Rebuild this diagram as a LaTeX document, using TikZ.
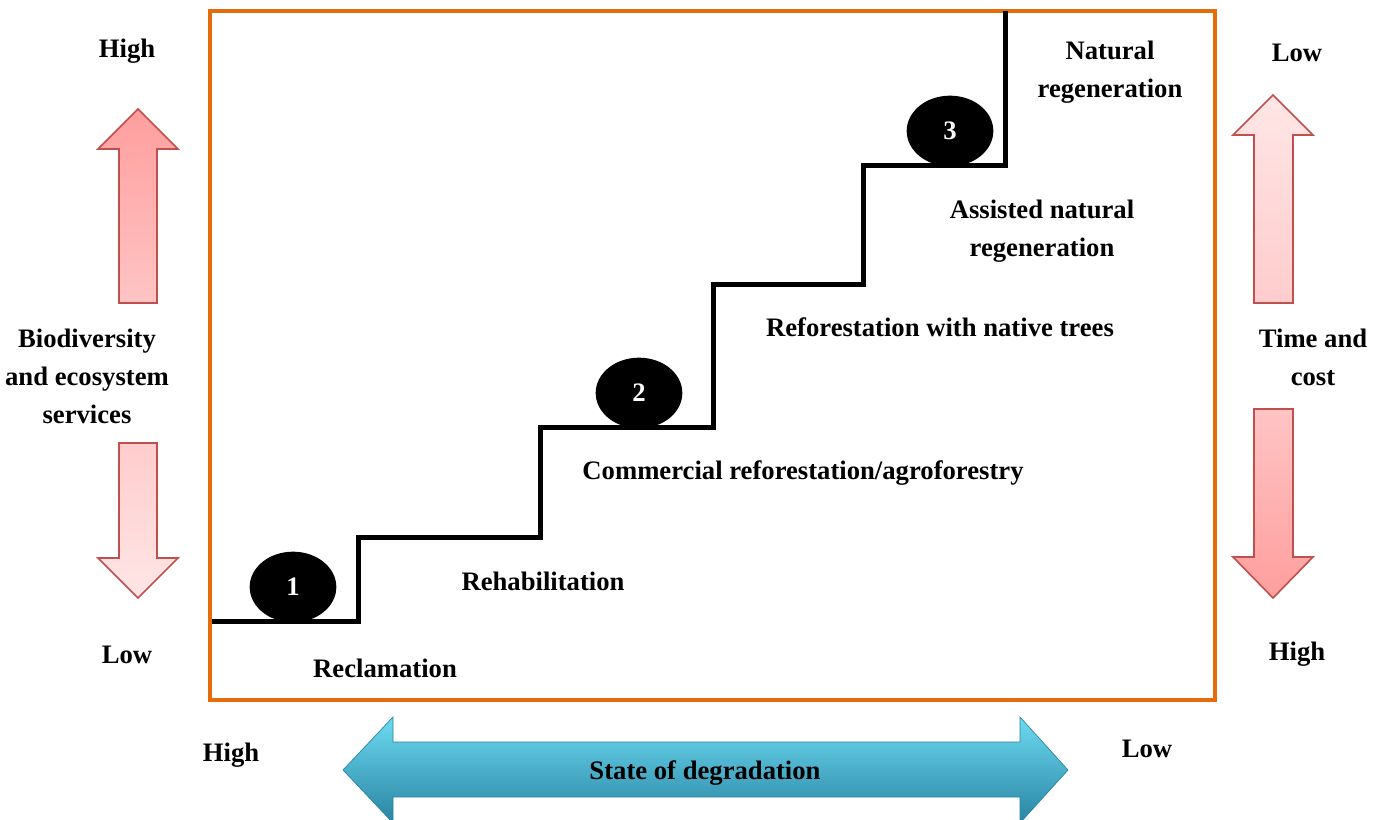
\documentclass[tikz,border=0pt]{standalone}
\usepackage{fontspec}
\setmainfont{Liberation Serif}
\usetikzlibrary{shapes.geometric}
\definecolor{boxorange}{RGB}{228,108,10}
\definecolor{pinkborder}{RGB}{192,80,77}
\definecolor{pinkA}{RGB}{255,158,158}
\definecolor{pinkB}{RGB}{255,196,196}
\definecolor{pinkC}{RGB}{255,204,204}
\definecolor{pinkD}{RGB}{255,230,230}
\definecolor{blueTop}{RGB}{110,218,242}
\definecolor{blueMid}{RGB}{55,176,210}
\definecolor{blueBot}{RGB}{40,132,162}
\begin{document}
\begin{tikzpicture}[x=0.75pt,y=-0.75pt,
  lbl/.style={font=\fontsize{20}{28.5}\selectfont\bfseries, align=center, inner sep=0pt},
  stage/.style={ellipse, fill=black, minimum width=65pt, minimum height=53pt, inner sep=0pt,
     text=white, font=\fontsize{20}{24}\selectfont\bfseries},
  pinkarrow/.style={draw=pinkborder, line width=1.2pt, line join=miter},
  stair/.style={line width=3.75pt, line join=miter, draw=black}]
\useasboundingbox (0,0) rectangle (1374,820);

% orange frame
\draw[boxorange, line width=2.3pt] (210,11) rectangle (1215,700);

% staircase
\coordinate (s0) at (212,621);
\coordinate (s1) at (358,621);
\coordinate (s2) at (358,537);
\coordinate (s3) at (540,537);
\coordinate (s4) at (540,427);
\coordinate (s5) at (713,427);
\coordinate (s6) at (713,284);
\coordinate (s7) at (863,284);
\coordinate (s8) at (863,166);
\coordinate (s9) at (1005,166);
\coordinate (s10) at (1005,11);
\draw[stair, draw=black!25, shift={(3,3)}] (s0) -- (s1) -- (s2) -- (s3) -- (s4) -- (s5) -- (s6) -- (s7) -- (s8) -- (s9) -- (s10);
\draw[stair] (s0) -- (s1) -- (s2) -- (s3) -- (s4) -- (s5) -- (s6) -- (s7) -- (s8) -- (s9) -- (s10);

% stage circles
\node[stage] (c1) at (293,587) {1};
\node[stage] (c2) at (639,393) {2};
\node[stage] (c3) at (950,131) {3};

% left pink arrows
\shade[pinkarrow, top color=pinkA, bottom color=pinkB]
  (138,109) -- (178,149) -- (157,149) -- (157,303) -- (119,303) -- (119,149) -- (98,149) -- cycle;
\shade[pinkarrow, top color=pinkC, bottom color=pinkD]
  (119,443) -- (157,443) -- (157,558) -- (178,558) -- (138,598) -- (98,558) -- (119,558) -- cycle;

% right pink arrows
\shade[pinkarrow, top color=pinkD, bottom color=pinkC]
  (1273,95) -- (1313,135) -- (1293,135) -- (1293,303) -- (1254,303) -- (1254,135) -- (1233,135) -- cycle;
\shade[pinkarrow, top color=pinkB, bottom color=pinkA]
  (1254,409) -- (1293,409) -- (1293,557) -- (1313,557) -- (1273,598) -- (1233,557) -- (1254,557) -- cycle;

% bottom blue double arrow
\shade[top color=blueTop, middle color=blueMid, bottom color=blueBot, draw=blueBot, line width=0.5pt]
  (343,770) -- (393,717) -- (393,742) -- (1020,742) -- (1020,717) -- (1068,770)
  -- (1020,823) -- (1020,797) -- (393,797) -- (393,823) -- cycle;

% labels
\node[lbl] (hiL) at (127,51) {High};
\node[lbl] (loL) at (127,655) {Low};
\node[lbl] (bio) at (87,376) {Biodiversity\\and ecosystem\\services};
\node[lbl] (loR) at (1297,53) {Low};
\node[lbl] (hiR) at (1297,654) {High};
\node[lbl] (tc) at (1313,357) {Time and\\cost};
\node[lbl] (hiB) at (231,755) {High};
\node[lbl] (loB) at (1147,749) {Low};
\node[lbl] (sod) at (705,773) {State of degradation};

\node[lbl] (nat) at (1110,72) {Natural\\regeneration};
\node[lbl] (anr) at (1042,231) {Assisted natural\\regeneration};
\node[lbl] (rnt) at (940,327) {Reforestation with native trees};
\node[lbl] (cra) at (803,473) {Commercial reforestation/agroforestry};
\node[lbl] (reh) at (543,581) {Rehabilitation};
\node[lbl] (rec) at (385,668) {Reclamation};
\end{tikzpicture}
\end{document}
